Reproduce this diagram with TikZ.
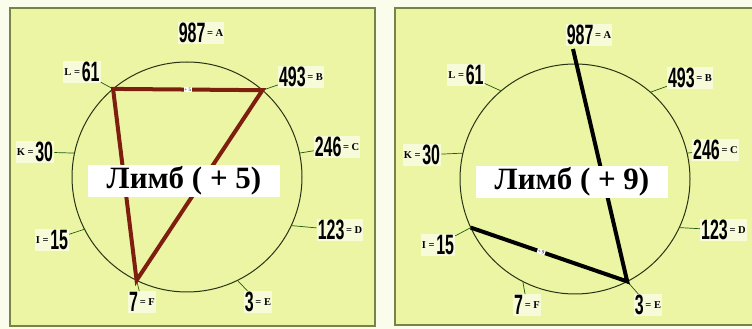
\documentclass[tikz,border=0pt]{standalone}
\usepackage{fontspec}
\usepackage{graphicx}
\setmainfont{Liberation Serif}
\newfontfamily\numfont{Liberation Sans}

\definecolor{pagebg}{RGB}{250,252,236}
\definecolor{panel}{RGB}{236,245,163}
\definecolor{frameline}{RGB}{120,132,70}
\definecolor{limbline}{RGB}{40,50,20}
\definecolor{brickred}{RGB}{125,30,15}

% Zahl gross und schmal, Buchstabe klein
\newcommand{\bignum}[1]{\scalebox{0.57}[1]{\numfont\bfseries\fontsize{28}{28}\selectfont #1}}
\newcommand{\smlet}[1]{\raisebox{6pt}{\bfseries\fontsize{10.5}{10.5}\selectfont #1}}
\newcommand{\nlab}[2]{\bignum{#1}\,\smlet{= #2}}
\newcommand{\llab}[2]{\smlet{#1 =}\,\bignum{#2}}

\begin{document}
\begin{tikzpicture}[x=1pt,y=1pt,
    frame/.style={draw=frameline, line width=1.5pt, fill=panel},
    limb/.style={circle, draw=limbline, line width=1pt, minimum size=230pt, inner sep=0pt, outer sep=0pt},
    lab/.style={fill=white, fill opacity=0.6, text opacity=1, inner sep=1pt},
    tick/.style={draw=limbline!80!green, line width=0.7pt},
    chord/.style={line width=4pt},
    title/.style={fill=white, inner sep=0pt, minimum width=192pt, minimum height=32pt, font=\bfseries\fontsize{31}{31}\selectfont},
    small/.style={fill=white, inner sep=0.8pt, font=\fontsize{5}{5}\selectfont}]

    \useasboundingbox (0,0) rectangle (752,329);
    \fill[pagebg] (0,0) rectangle (752,329);

    % Rahmen
    \draw[frame] (10,3) rectangle (375,321);
    \draw[frame] (395,4) rectangle (770,321);

    % Limb links
    \node[limb] (c1) at (187,152) {};
    \coordinate (A1) at (c1.90);
    \coordinate (B1) at (c1.49);
    \coordinate (C1) at (c1.12);
    \coordinate (D1) at (c1.-25);
    \coordinate (E1) at (c1.-64);
    \coordinate (F1) at (c1.-116);
    \coordinate (I1) at (c1.-153);
    \coordinate (K1) at (c1.168);
    \coordinate (L1) at (c1.130);

    % Limb rechts
    \node[limb] (c2) at (575,150) {};
    \coordinate (A2) at (c2.91);
    \coordinate (B2) at (c2.49);
    \coordinate (C2) at (c2.13);
    \coordinate (D2) at (c2.-25);
    \coordinate (E2) at (c2.-63);
    \coordinate (F2) at (c2.-117);
    \coordinate (I2) at (c2.-155);
    \coordinate (K2) at (c2.167);
    \coordinate (L2) at (c2.130);
    \coordinate (A2t) at (573,280);

    % Beschriftung links
    \node[lab] (lA1) at (201,296) {\nlab{987}{A}};
    \node[lab] (lL1) at (82,257) {\llab{L}{61}};
    \node[lab] (lB1) at (301,252) {\nlab{493}{B}};
    \node[lab] (lK1) at (35,177) {\llab{K}{30}};
    \node[lab] (lC1) at (337,182) {\nlab{246}{C}};
    \node[lab] (lD1) at (340,99) {\nlab{123}{D}};
    \node[lab] (lI1) at (52,89) {\llab{I}{15}};
    \node[lab] (lF1) at (142,27) {\nlab{7}{F}};
    \node[lab] (lE1) at (258,27) {\nlab{3}{E}};

    % Beschriftung rechts
    \node[lab] (lA2) at (589,294) {\nlab{987}{A}};
    \node[lab] (lL2) at (466,254) {\llab{L}{61}};
    \node[lab] (lB2) at (690,251) {\nlab{493}{B}};
    \node[lab] (lK2) at (422,174) {\llab{K}{30}};
    \node[lab, anchor=west] (lC2) at (692,179) {\nlab{246}{C}};
    \node[lab, anchor=west] (lD2) at (700,99) {\nlab{123}{D}};
    \node[lab] (lI2) at (438,84) {\llab{I}{15}};
    \node[lab] (lF2) at (527,24) {\nlab{7}{F}};
    \node[lab] (lE2) at (648,24) {\nlab{3}{E}};

    % Striche
    \foreach \p in {L,B,C,D,E,F,I,K} {
        \draw[tick] (\p1) -- (l\p1);
        \draw[tick] (\p2) -- (l\p2);
    }

    % Sehnen
    \draw[chord, brickred] (L1) -- (B1) -- (F1) -- cycle;
    \path (L1) -- node[small] {+ 5} (B1);
    \draw[chord, black] (A2t) -- (E2) -- (I2);
    \path (I2) -- node[small, sloped, pos=0.45] {+ 9} (E2);

    % Titel
    \node[title] (t1) at (184,148) {Лимб ( + 5)};
    \node[title] (t2) at (572,147) {Лимб ( + 9)};
\end{tikzpicture}
\end{document}
